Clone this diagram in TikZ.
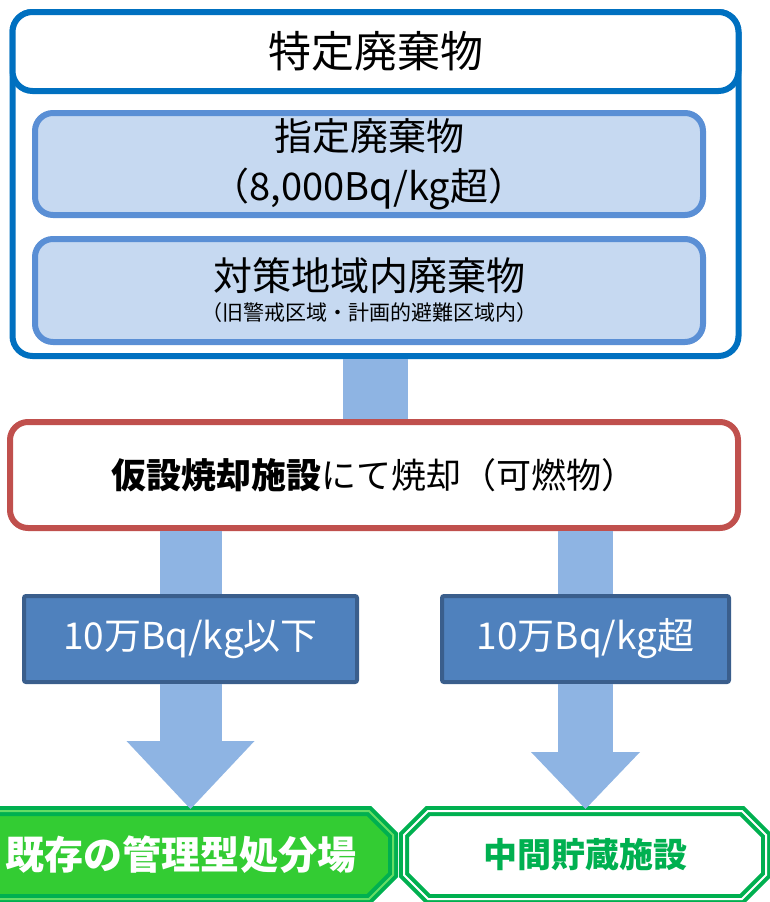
\documentclass[tikz,border=0pt]{standalone}
\usepackage{fontspec}
\setmainfont{Noto Sans CJK JP}
\usetikzlibrary{arrows.meta,shapes.misc}
\definecolor{outerblue}{HTML}{0070C0}
\definecolor{innerblue}{HTML}{5A8FD5}
\definecolor{innerfill}{HTML}{C6D9F1}
\definecolor{barblue}{HTML}{8EB4E3}
\definecolor{burnred}{HTML}{C0504D}
\definecolor{levelfill}{HTML}{4F81BD}
\definecolor{leveldraw}{HTML}{3A5E8C}
\definecolor{sitegreen}{HTML}{00B050}
\definecolor{sitefill}{HTML}{33CC33}
\definecolor{sitestripe}{HTML}{66DD66}
\begin{document}
\begin{tikzpicture}[x=1pt,y=-1pt,
  frame/.style={rectangle, rounded corners=20pt, draw=outerblue, line width=6pt, minimum width=726pt},
  waste/.style={rectangle, rounded corners=18pt, draw=innerblue, fill=innerfill, line width=6pt, minimum width=668pt, minimum height=102pt, align=center, font=\fontsize{38}{50}\selectfont},
  level/.style={rectangle, rounded corners=2pt, draw=leveldraw, fill=levelfill, line width=4pt, minimum height=86pt, text=white, font=\fontsize{37}{42}\selectfont},
  site/.style={chamfered rectangle, chamfered rectangle xsep=12pt, chamfered rectangle ysep=12pt, draw=sitegreen, line width=4pt, double distance=2pt, minimum height=88pt, font=\bfseries\fontsize{39}{44}\selectfont},
  bar/.style={draw=barblue}]
\useasboundingbox (0,0) rectangle (769,902);

\node[frame, minimum height=344pt] (SpecFrame) at (375.5,184) {};
\node[frame, fill=white, minimum height=79pt, font=\fontsize{43}{50}\selectfont] (SpecWaste) at (375.5,51.5) {特定廃棄物};
\node[waste] (DesigWaste) at (369,164) {指定廃棄物\\（8,000Bq/kg超）};
\node[waste, minimum height=103pt, font=\fontsize{39}{46}\selectfont] (AreaWaste) at (369,290.5) {対策地域内廃棄物\\[-16pt]{\fontsize{21}{26}\selectfont（旧警戒区域・計画的避難区域内）}};

\node[rectangle, rounded corners=18pt, draw=burnred, fill=white, line width=6pt, minimum width=728pt, minimum height=106pt, font=\fontsize{35}{42}\selectfont] (Incinerate) at (374,475) {{\bfseries 仮設焼却施設}にて焼却（可燃物）};

\node[level, minimum width=333pt] (LowLevel) at (190.5,639) {10万Bq/kg以下};
\node[level, minimum width=287pt] (HighLevel) at (585.5,639) {10万Bq/kg超};

\node[site, double=sitestripe, fill=sitefill, text=white, minimum width=424pt] (Landfill) at (181,855) {既存の管理型処分場};
\node[site, double=white, fill=white, text=sitegreen, minimum width=362pt, font=\bfseries\fontsize{34}{40}\selectfont] (Storage) at (585,855) {中間貯蔵施設};

\draw[bar, line width=65pt] (SpecFrame.south) -- (SpecFrame.south |- Incinerate.north);
\draw[bar, line width=62pt] (LowLevel.north |- Incinerate.south) -- (LowLevel.north);
\draw[bar, line width=55pt] (HighLevel.north |- Incinerate.south) -- (HighLevel.north);
\draw[bar, line width=62pt, -{Triangle[width=128pt, length=68pt, line width=0pt]}] (LowLevel.south) -- (LowLevel.south |- Landfill.north);
\draw[bar, line width=55pt, -{Triangle[width=109pt, length=57pt, line width=0pt]}] (HighLevel.south) -- (HighLevel.south |- Storage.north);
\end{tikzpicture}
\end{document}
